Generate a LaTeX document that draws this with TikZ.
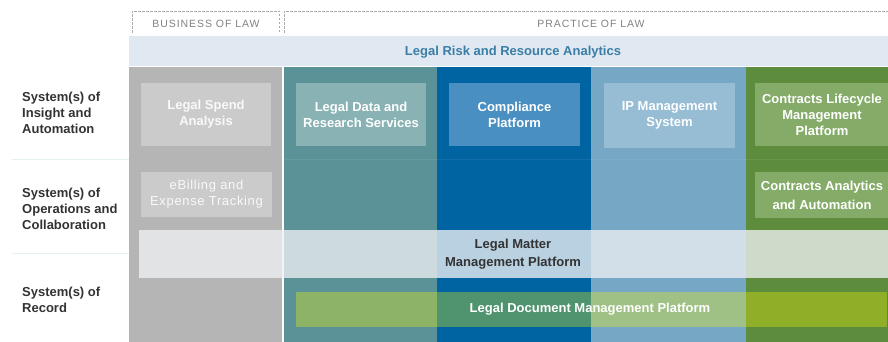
\documentclass[tikz,border=0pt]{standalone}
\usepackage{fontspec}
\setmainfont{Liberation Sans}
\definecolor{cgray}{HTML}{B5B5B5}
\definecolor{cteal}{HTML}{5B9297}
\definecolor{cdblue}{HTML}{0064A3}
\definecolor{clblue}{HTML}{76A7C5}
\definecolor{cgreen}{HTML}{5E8C3D}
\definecolor{igray}{HTML}{CBCBCB}
\definecolor{iteal}{HTML}{88B2B4}
\definecolor{idblue}{HTML}{4A8FC1}
\definecolor{ilblue}{HTML}{97BDD5}
\definecolor{igreen}{HTML}{84AB68}
\definecolor{band}{HTML}{E0E9F2}
\definecolor{bandtext}{HTML}{3C7DA6}
\definecolor{hdr}{HTML}{828282}
\definecolor{dashc}{HTML}{AAAAAA}
\definecolor{labc}{HTML}{333333}
\definecolor{docband}{RGB}{247,250,0}
\definecolor{sepc}{HTML}{E3EFF0}
\begin{document}
\begin{tikzpicture}[x=1pt,y=-1pt,
  colbox/.style={rectangle,inner sep=0pt,anchor=north west,draw=none},
  ibox/.style={rectangle,inner sep=0pt,align=center,text=white,
    font=\bfseries\fontsize{13}{16}\selectfont},
  rowlab/.style={anchor=west,align=left,inner sep=0pt,text=labc,
    font=\bfseries\fontsize{13}{16}\selectfont},
  hdrtext/.style={inner sep=0pt,text=hdr,font=\fontsize{10.5}{12}\selectfont\addfontfeature{LetterSpace=9}},
  hdrline/.style={draw=dashc,line width=0.8pt,dash pattern=on 2.5pt off 1.5pt}]
\clip (0,0) rectangle (888,342);
\fill[white] (0,0) rectangle (888,342);
% header
\draw[hdrline] (132,33) -- (132,11) -- (279,11) -- (279,33);
\draw[hdrline] (284,33) -- (284,11) -- (890,11);
\node[hdrtext] (bol) at (206,24) {BUSINESS OF LAW};
\node[hdrtext] (pol) at (591,24) {PRACTICE OF LAW};
% analytics band
\node[colbox,fill=band,minimum width=759pt,minimum height=30pt] (risk) at (129,36) {};
\node[inner sep=0pt,text=bandtext,font=\bfseries\fontsize{13}{14}\selectfont] (risktxt) at (513,52) {Legal Risk and Resource Analytics};
% columns
\node[colbox,fill=cgray,minimum width=153pt,minimum height=276pt] (c1) at (129,67) {};
\node[colbox,fill=cteal,minimum width=153pt,minimum height=276pt] (c2) at (284,67) {};
\node[colbox,fill=cdblue,minimum width=155pt,minimum height=276pt] (c3) at (437,67) {};
\node[colbox,fill=clblue,minimum width=155pt,minimum height=276pt] (c4) at (591,67) {};
\node[colbox,fill=cgreen,minimum width=145pt,minimum height=276pt] (c5) at (746,67) {};
% row separators
\draw[sepc,line width=0.8pt] (12,159) -- (129,159);
\draw[sepc,line width=0.8pt] (12,253) -- (129,253);
\draw[white,opacity=0.07,line width=0.8pt] (284,159) -- (888,159);
% row labels
\node[rowlab] (r1) at (22,113) {System(s) of\\Insight and\\Automation};
\node[rowlab] (r2) at (22,209) {System(s) of\\Operations and\\Collaboration};
\node[rowlab] (r3) at (22,300) {System(s) of\\Record};
% row 1 boxes
\node[ibox,fill=igray,text=white!95!gray,minimum width=130pt,minimum height=63pt] (spend) at (206,114.5) {Legal Spend\\Analysis};
\node[ibox,fill=iteal,minimum width=130pt,minimum height=63pt] (data) at (361,114.5) {Legal Data and\\Research Services};
\node[ibox,fill=idblue,minimum width=131pt,minimum height=63pt] (compl) at (514.5,114.5) {Compliance\\Platform};
\node[ibox,fill=ilblue,minimum width=131pt,minimum height=65pt] (ip) at (669.5,115.5) {IP Management\\System};
\node[ibox,fill=igreen,minimum width=134pt,minimum height=63pt] (clm) at (822,114.5) {Contracts Lifecycle\\Management\\Platform};
% row 2 boxes
\node[ibox,fill=igray,text=white!95!gray,font=\fontsize{13}{16}\selectfont\addfontfeature{LetterSpace=5},minimum width=131pt,minimum height=45pt] (ebill) at (206.5,194.5) {eBilling and\\Expense Tracking};
\node[ibox,fill=igreen,font=\bfseries\fontsize{13}{19}\selectfont,minimum width=134pt,minimum height=46pt] (cana) at (822,195) {Contracts Analytics\\and Automation};
% legal matter band
\node[colbox,fill={rgb,255:red,238;green,240;blue,242},fill opacity=0.78,minimum width=752pt,minimum height=48pt] (matter) at (139,230) {};
\node[inner sep=0pt,align=center,text=labc,font=\bfseries\fontsize{13}{18}\selectfont] (mattertxt) at (513,254) {Legal Matter\\Management Platform};
% legal document band
\node[colbox,fill=docband,fill opacity=0.32,minimum width=591pt,minimum height=35pt] (doc) at (296,292) {};
\node[inner sep=0pt,text=white,font=\bfseries\fontsize{13}{14}\selectfont] (doctxt) at (590,309.5) {Legal Document Management Platform};
\end{tikzpicture}
\end{document}
